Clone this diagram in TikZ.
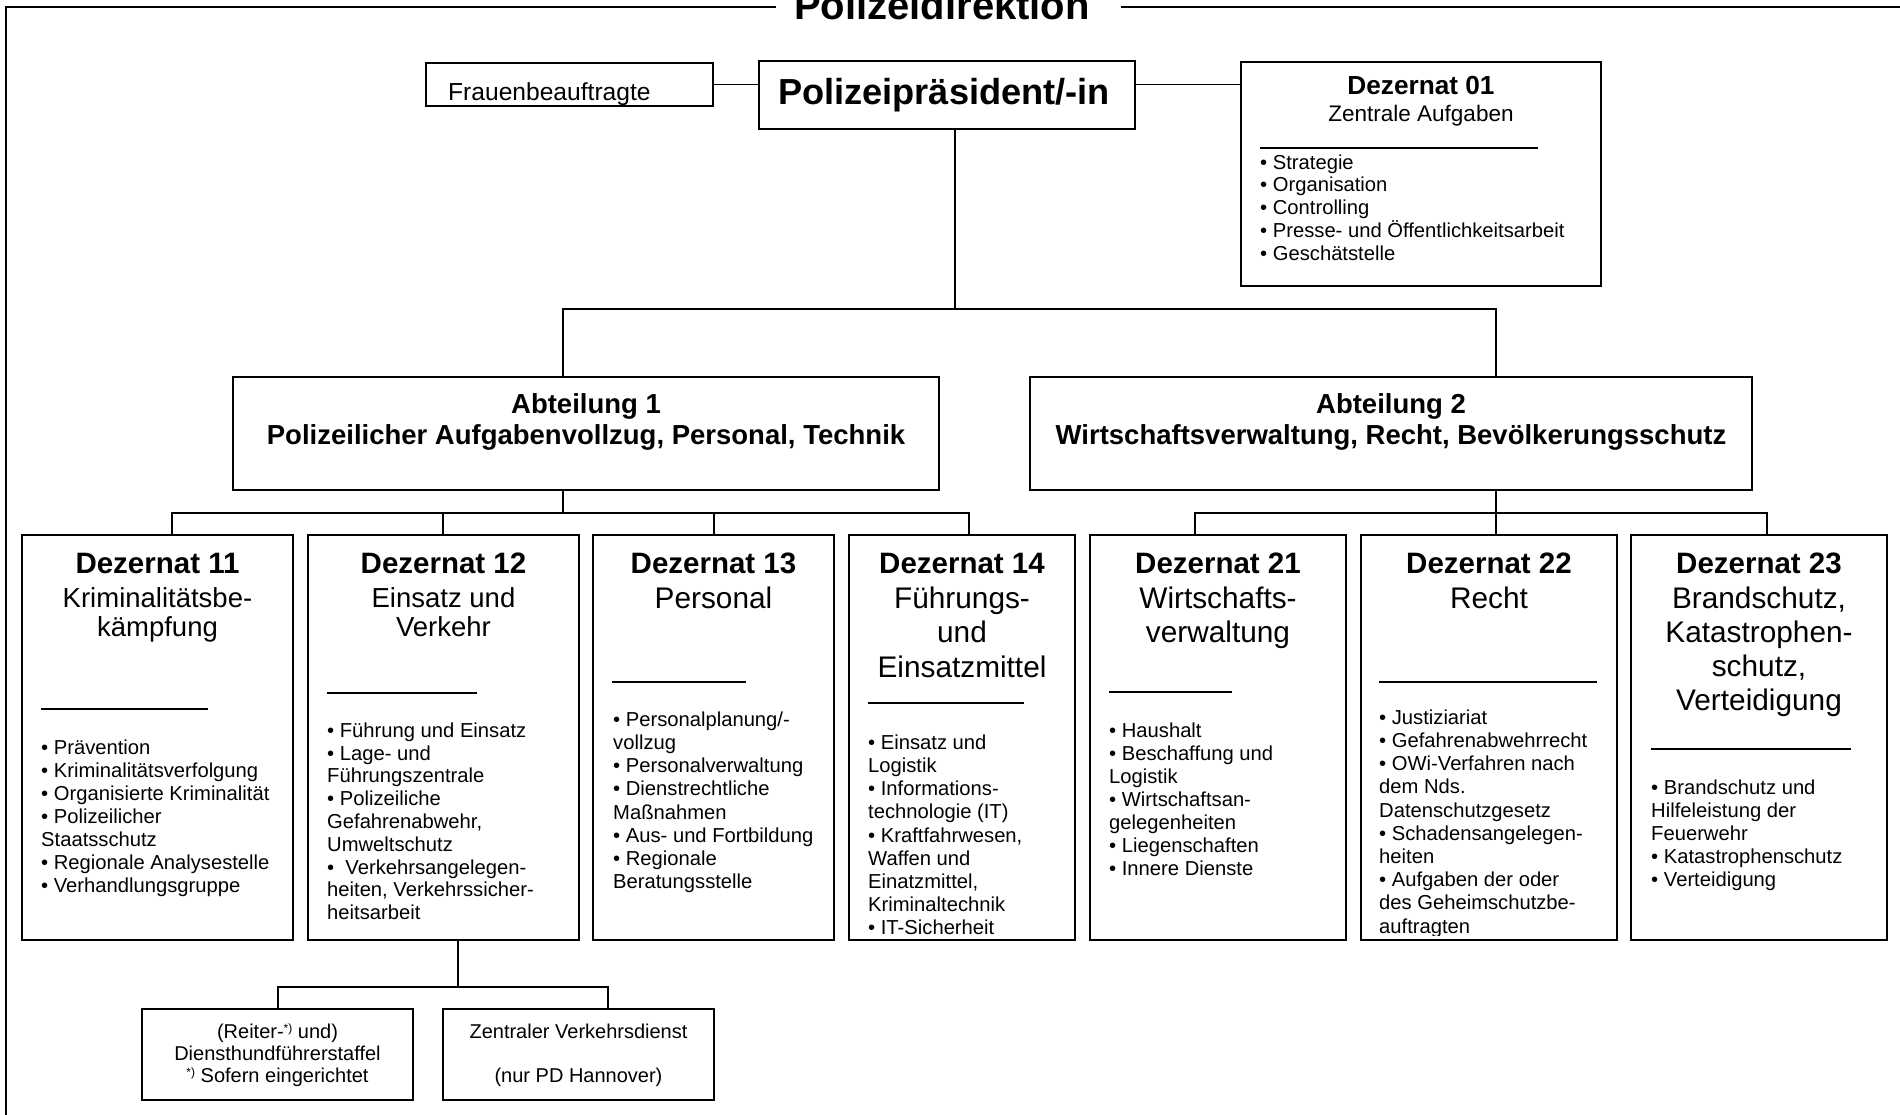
\documentclass[tikz,border=0pt]{standalone}
\usepackage{fontspec}
\setmainfont{Liberation Sans}
\begin{document}
\begin{tikzpicture}[x=1pt,y=-1pt,
  box/.style={draw, line width=1.8pt, inner sep=0pt, outer sep=0pt, anchor=north west},
  conn/.style={line width=1.4pt},
  rulel/.style={line width=1.2pt},
  frame/.style={line width=1.8pt},
  dtitle/.style={anchor=base, inner sep=0pt, font=\fontsize{29.5}{34}\selectfont\bfseries},
  dsub/.style 2 args={anchor=north, inner sep=0pt, align=center, font=\fontsize{#1}{#2}\selectfont},
  dsubone/.style={anchor=base, inner sep=0pt, font=\fontsize{29.8}{34}\selectfont},
  blist/.style={anchor=north west, inner sep=0pt, align=left, font=\fontsize{20.2}{#1}\selectfont},
  small/.style={anchor=base, inner sep=0pt, font=\fontsize{20}{22}\selectfont},
  abt/.style={anchor=base, inner sep=0pt, font=\fontsize{27.5}{32}\selectfont\bfseries}
]
\useasboundingbox (0,0) rectangle (1900,1115);
\newcommand\mkbox[5]{\node[box, minimum width={#4-#2}, minimum height={#5-#3}] (#1) at (#2,#3) {};}

% outer frame and title
\draw[frame] (6,1140) -- (6,7) -- (776,7);
\draw[frame] (1121,7) -- (1920,7);
\node[anchor=base, inner sep=0pt, font=\fontsize{40}{46}\selectfont\bfseries] (title) at (942,20) {Polizeidirektion};

% boxes
\mkbox{frau}{426}{63}{713}{106}
\mkbox{pp}{759}{61}{1135}{129}
\mkbox{d01}{1241}{62}{1601}{286}
\mkbox{abt1}{233}{377}{939}{490}
\mkbox{abt2}{1030}{377}{1752}{490}
\mkbox{d11}{22}{535}{293}{940}
\mkbox{d12}{308}{535}{579}{940}
\mkbox{d13}{593}{535}{834}{940}
\mkbox{d14}{849}{535}{1075}{940}
\mkbox{d21}{1090}{535}{1346}{940}
\mkbox{d22}{1361}{535}{1617}{940}
\mkbox{d23}{1631}{535}{1887}{940}
\mkbox{b1}{142}{1009}{413}{1100}
\mkbox{b2}{443}{1009}{714}{1100}

% top texts
\begin{scope}
\clip (426,63) rectangle (713,105);
\node[anchor=base west, inner sep=0pt, font=\fontsize{24.6}{28}\selectfont] (frautxt) at (448,101) {Frauenbeauftragte};
\end{scope}
\node[anchor=base, inner sep=0pt, font=\fontsize{36.2}{40}\selectfont\bfseries] (pptxt) at (944,105) {Polizeipräsident/-in};
\node[anchor=base, inner sep=0pt, font=\fontsize{26.2}{30}\selectfont\bfseries] (d01t) at (1421,95) {Dezernat 01};
\node[anchor=base, inner sep=0pt, font=\fontsize{22.5}{26}\selectfont] (d01s) at (1421,122) {Zentrale Aufgaben};
\draw[rulel] (1260,148) -- (1538,148);
\node[blist=22.8] (d01l) at (1260,153.04) {\strut • Strategie\\ • Organisation\\ • Controlling\\ • Presse- und Öffentlichkeitsarbeit\\ • Geschätstelle};

% Abteilungen
\node[abt] (abt1a) at (586,413) {Abteilung 1};
\node[abt] (abt1b) at (586,444) {Polizeilicher Aufgabenvollzug, Personal, Technik};
\node[abt] (abt2a) at (1391,413) {Abteilung 2};
\node[abt] (abt2b) at (1391,444) {Wirtschaftsverwaltung, Recht, Bevölkerungsschutz};

% Dezernat titles
\node[dtitle] (d11t) at (157.5,573) {Dezernat 11};
\node[dtitle] (d12t) at (443.5,573) {Dezernat 12};
\node[dtitle] (d13t) at (713.5,573) {Dezernat 13};
\node[dtitle] (d14t) at (962,573) {Dezernat 14};
\node[dtitle] (d21t) at (1218,573) {Dezernat 21};
\node[dtitle] (d22t) at (1489,573) {Dezernat 22};
\node[dtitle] (d23t) at (1759,573) {Dezernat 23};

% subtitles
\node[dsub={27.5}{29}] (d11s) at (157.5,586.7) {\strut Kriminalitätsbe-\\kämpfung};
\node[dsub={27.5}{29}] (d12s) at (443.5,586.7) {\strut Einsatz und\\Verkehr};
\node[dsubone] (d13s) at (713.5,608) {Personal};
\node[dsub={29.8}{34.5}] (d14s) at (962,583.85) {\strut Führungs-\\und\\Einsatzmittel};
\node[dsub={29.8}{34}] (d21s) at (1218,584.2) {\strut Wirtschafts-\\verwaltung};
\node[dsubone] (d22s) at (1489,608) {Recht};
\node[dsub={29.8}{34}] (d23s) at (1759,584.2) {\strut Brandschutz,\\Katastrophen-\\schutz,\\Verteidigung};

% separator rules
\draw[rulel] (41,709) -- (208,709);
\draw[rulel] (327,693) -- (477,693);
\draw[rulel] (612,682) -- (746,682);
\draw[rulel] (868,703) -- (1024,703);
\draw[rulel] (1109,692) -- (1232,692);
\draw[rulel] (1379,682) -- (1597,682);
\draw[rulel] (1651,749) -- (1851,749);

% bullet lists
\begin{scope}
\clip (22,535) rectangle (1887,935);
\node[blist=23.1] (d11l) at (41,737.83) {\strut • Prävention\\ • Kriminalitätsverfolgung\\ • Organisierte Kriminalität\\ • Polizeilicher\\ Staatsschutz\\ • Regionale Analysestelle\\ • Verhandlungsgruppe};
\node[blist=22.8] (d12l) at (327,721.04) {\strut • Führung und Einsatz\\ • Lage- und\\ Führungszentrale\\ • Polizeiliche\\ Gefahrenabwehr,\\ Umweltschutz\\ •~ Verkehrsangelegen-\\ heiten, Verkehrssicher-\\ heitsarbeit};
\node[blist=23.2] (d13l) at (613,709.76) {\strut • Personalplanung/-\\ vollzug\\ • Personalverwaltung\\ • Dienstrechtliche\\ Maßnahmen\\ • Aus- und Fortbildung\\ • Regionale\\ Beratungsstelle};
\node[blist=23.2] (d14l) at (868,732.76) {\strut • Einsatz und\\ Logistik\\ • Informations-\\ technologie (IT)\\ • Kraftfahrwesen,\\ Waffen und\\ Einatzmittel,\\ Kriminaltechnik\\ • IT-Sicherheit};
\node[blist=23] (d21l) at (1109,720.9) {\strut • Haushalt\\ • Beschaffung und\\ Logistik\\ • Wirtschaftsan-\\ gelegenheiten\\ • Liegenschaften\\ • Innere Dienste};
\node[blist=23.2] (d22l) at (1379,707.76) {\strut • Justiziariat\\ • Gefahrenabwehrrecht\\ • OWi-Verfahren nach\\ dem Nds.\\ Datenschutzgesetz\\ • Schadensangelegen-\\ heiten\\ • Aufgaben der oder\\ des Geheimschutzbe-\\ auftragten};
\node[blist=23] (d23l) at (1651,777.9) {\strut • Brandschutz und\\ Hilfeleistung der\\ Feuerwehr\\ • Katastrophenschutz\\ • Verteidigung};
\end{scope}

% bottom boxes texts
\node[small] (b1a) at (277.5,1038) {(Reiter-\raisebox{0.55ex}{\fontsize{12}{12}\selectfont *)} und)};
\node[small] (b1b) at (277.5,1060) {Diensthundführerstaffel};
\node[small] (b1c) at (277.5,1082) {\raisebox{0.55ex}{\fontsize{12}{12}\selectfont *)} Sofern eingerichtet};
\node[small] (b2a) at (578.5,1038) {Zentraler Verkehrsdienst};
\node[small] (b2b) at (578.5,1082) {(nur PD Hannover)};

% connectors
\draw[conn] (frau.east) -- (frau.east -| pp.west);
\draw[conn] (frau.east -| pp.east) -- (frau.east -| d01.west);
\coordinate (j0) at (955,309);
\coordinate (a1t) at (563,377);
\coordinate (a2t) at (1496,377);
\draw[conn] (pp.south -| j0) -- (j0);
\draw[conn] (a1t) |- (j0) -| (a2t);

\coordinate (k1) at (563,513);
\coordinate (p11) at (172,535);
\coordinate (p12) at (443,535);
\coordinate (p13) at (714,535);
\coordinate (p14) at (969,535);
\draw[conn] (abt1.south -| k1) -- (k1);
\draw[conn] (p11) |- (k1) -| (p14);
\draw[conn] (p12) -- (p12 |- k1);
\draw[conn] (p13) -- (p13 |- k1);

\coordinate (k2) at (1496,513);
\coordinate (p21) at (1195,535);
\coordinate (p22) at (1496,535);
\coordinate (p23) at (1767,535);
\draw[conn] (abt2.south -| k2) -- (p22);
\draw[conn] (p21) |- (k2) -| (p23);

\coordinate (k3) at (458,987);
\coordinate (q1) at (278,1009);
\coordinate (q2) at (608,1009);
\draw[conn] (d12.south -| k3) -- (k3);
\draw[conn] (q1) |- (k3) -| (q2);
\end{tikzpicture}
\end{document}
